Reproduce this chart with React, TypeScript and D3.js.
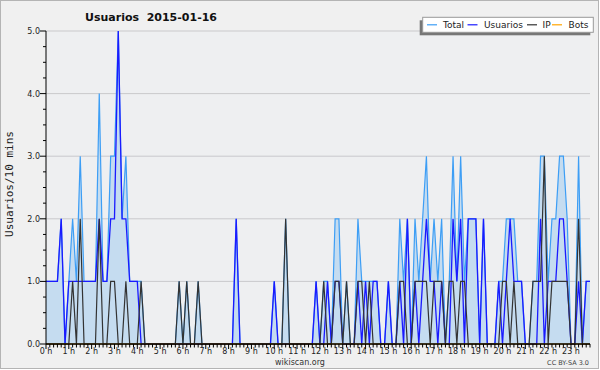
import React from "react";
import * as d3 from "d3";

// 10-minute bins, 0:00 .. 23:50 (6 values per hour)
const total = [
  1,1,1,1,2,0, 1,2,1,3,1,1, 1,1,4,1,1,3, 3,5,2,3,1,1,
  1,1,0,0,0,0, 0,0,0,0,0,1, 0,1,0,0,1,0, 0,0,0,0,0,0,
  0,0,2,0,0,0, 0,0,0,0,0,0, 1,0,0,2,0,0, 0,0,0,0,0,1,
  0,1,1,0,2,2, 0,1,0,0,2,1, 1,1,1,1,0,0, 1,0,0,2,1,2,
  0,2,1,2,3,1, 2,1,2,0,1,3, 1,3,1,2,2,2, 0,2,0,0,0,1,
  1,2,2,2,1,1, 0,0,1,1,3,3, 1,2,2,3,3,2, 0,0,3,0,1,1,
];
const usuarios = [
  1,1,1,1,2,0, 1,1,1,1,1,1, 1,1,2,1,1,2, 2,5,2,2,1,1,
  1,0,0,0,0,0, 0,0,0,0,0,0, 0,0,0,0,0,0, 0,0,0,0,0,0,
  0,0,2,0,0,0, 0,0,0,0,0,0, 1,0,0,0,0,0, 0,0,0,0,0,1,
  0,0,1,0,1,1, 0,0,0,0,1,0, 1,0,1,1,0,0, 1,0,0,1,0,2,
  0,1,0,1,2,1, 1,0,1,0,0,2, 1,2,0,2,2,2, 0,2,0,0,0,1,
  0,1,2,1,1,1, 0,0,0,0,2,0, 1,1,1,2,2,1, 0,0,1,0,1,1,
];
const ip = [
  0,0,0,0,0,0, 0,1,0,2,0,0, 0,0,2,0,0,1, 1,0,0,1,0,0,
  0,1,0,0,0,0, 0,0,0,0,0,1, 0,1,0,0,1,0, 0,0,0,0,0,0,
  0,0,0,0,0,0, 0,0,0,0,0,0, 0,0,0,2,0,0, 0,0,0,0,0,0,
  0,1,0,0,1,1, 0,1,0,0,1,1, 0,1,0,0,0,0, 0,0,0,1,1,0,
  0,1,1,1,1,0, 1,1,1,0,1,1, 0,1,1,0,0,0, 0,0,0,0,0,0,
  1,1,0,1,0,0, 0,0,1,1,1,3, 0,1,1,1,1,1, 0,0,2,0,0,0,
];
const bots = [
  0,0,0,0,0,0, 0,0,0,0,0,0, 0,0,0,0,0,0, 0,0,0,0,0,0,
  0,0,0,0,0,0, 0,0,0,0,0,0, 0,0,0,0,0,0, 0,0,0,0,0,0,
  0,0,0,0,0,0, 0,0,0,0,0,0, 0,0,0,0,0,0, 0,0,0,0,0,0,
  0,0,0,0,0,0, 0,0,0,0,0,0, 0,0,0,0,0,0, 0,0,0,0,0,0,
  0,0,0,0,0,0, 0,0,0,0,0,0, 0,0,0,0,0,0, 0,0,0,0,0,0,
  0,0,0,0,0,0, 0,0,0,0,0,0, 0,0,0,0,0,0, 0,0,0,0,0,0,
];
const hourLabels = d3.range(0, 24).map((h) => `${h} h`);
const yTickLabels = ["0.0", "1.0", "2.0", "3.0", "4.0", "5.0"];
const legendItems = [
  { name: "Total", color: "#3d9ef5" },
  { name: "Usuarios", color: "#1a1aff" },
  { name: "IP", color: "#333333" },
  { name: "Bots", color: "#ffa500" },
];

const W = 600, H = 370;
const L = 46, R = 590, T = 31, B = 344;
const FONT = "'DejaVu Sans', Verdana, sans-serif";

export default function App() {
  const n = total.length;
  const x = d3.scaleLinear().domain([0, n - 1]).range([L, R]);
  const y = d3.scaleLinear().domain([0, 5]).range([B, T]);
  const idx = d3.range(n);

  const area = d3.area<number>().x((i) => x(i)).y0(y(0)).y1((i) => y(total[i]));
  const line = (arr: number[]) => d3.line<number>().x((i) => x(i)).y((i) => y(arr[i]))(idx) || "";

  const majorY = d3.range(0, 6);
  const minorY = d3.range(0, 5.01, 0.25).filter((v) => Math.abs(v - Math.round(v)) > 1e-6);

  let lx = 427;
  const legendPos = [
    { sw: 427, tx: 443 },
    { sw: 467.5, tx: 484 },
    { sw: 527, tx: 542.5 },
    { sw: 552, tx: 568.5 },
  ];

  return (
    <>
      <style>{`body{margin:0}`}</style>
      <svg width={W} height={H} style={{ display: "block" }} fontFamily={FONT}>
        <rect x={0.5} y={0.5} width={W - 2} height={H - 2} fill="#f0f0f0" stroke="#b4b4b4" />
        <rect x={L} y={T} width={R - L} height={B - T} fill="#eeeff1" />
        {majorY.slice(1).map((v) => (
          <line key={v} x1={L} x2={R} y1={y(v)} y2={y(v)} stroke="#c9c9cc" strokeWidth={1} />
        ))}
        <path d={area(idx) || ""} fill="#c5dcf0" />
        <path d={line(total)} fill="none" stroke="#3d9ef5" strokeWidth={1.2} />
        <path d={line(usuarios)} fill="none" stroke="#1a1aff" strokeWidth={1.3} />
        <path d={line(ip)} fill="none" stroke="#333333" strokeWidth={1.2} />
        <path d={line(bots)} fill="none" stroke="#ffa500" strokeWidth={1.2} />

        {/* y axis */}
        <line x1={L} x2={L} y1={T} y2={B} stroke="#000" strokeWidth={1} />
        {majorY.map((v) => (
          <g key={v}>
            <line x1={L - 6} x2={L} y1={y(v)} y2={y(v)} stroke="#000" />
            <text x={40} y={y(v) + 3} fontSize={8} textAnchor="end" fill="#222">
              {yTickLabels[v]}
            </text>
          </g>
        ))}
        {minorY.map((v) => (
          <line key={v} x1={L - 3} x2={L} y1={y(v)} y2={y(v)} stroke="#000" />
        ))}

        {/* x axis */}
        <line x1={L} x2={R} y1={B} y2={B} stroke="#000" strokeWidth={1.6} />
        {idx.map((i) => (
          <line key={i} x1={x(i)} x2={x(i)} y1={B} y2={B + (i % 6 === 0 ? 5 : 3.5)} stroke="#000" />
        ))}
        {hourLabels.map((lab, h) => (
          <text key={lab} x={x(h * 6)} y={353.5} fontSize={8} textAnchor="middle" fill="#222">
            {lab}
          </text>
        ))}

        {/* title */}
        <text x={151} y={21} fontSize={11} fontWeight="bold" textAnchor="middle" fill="#111" style={{ whiteSpace: "pre" }}>
          {"Usuarios  2015-01-16"}
        </text>

        {/* y label */}
        <text
          transform={`translate(13,184) rotate(-90)`}
          fontSize={11}
          fontFamily="'DejaVu Sans Mono', monospace"
          textAnchor="middle"
          fill="#222"
        >
          Usuarios/10 mins
        </text>

        {/* legend */}
        <rect x={419.7} y={20.3} width={170.6} height={15} fill="#777" />
        <rect x={422.7} y={17.3} width={170.6} height={15} fill="#fff" stroke="#999" />
        {legendItems.map((it, k) => (
          <g key={it.name}>
            <line x1={legendPos[k].sw} x2={legendPos[k].sw + 10} y1={24.8} y2={24.8} stroke={it.color} strokeWidth={1.2} />
            <text x={legendPos[k].tx} y={28} fontSize={9} fill="#222">
              {it.name}
            </text>
          </g>
        ))}

        <text x={300} y={365} fontSize={8} textAnchor="middle" fill="#333">
          wikiscan.org
        </text>
        <text x={589} y={365} fontSize={6.5} textAnchor="end" fill="#444">
          CC BY-SA 3.0
        </text>
      </svg>
    </>
  );
}
